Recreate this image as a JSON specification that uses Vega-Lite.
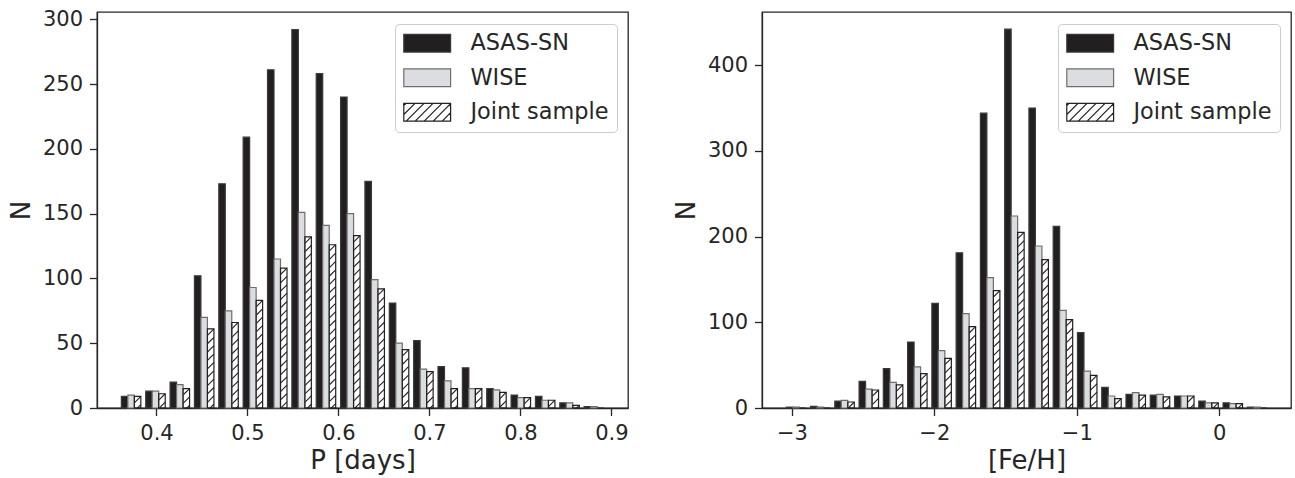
{
  "$schema": "https://vega.github.io/schema/vega-lite/v6.json",
  "background": "white",
  "padding": {"left": 7, "top": 7, "right": 0, "bottom": 0},
  "config": {
    "font": "DejaVu Sans",
    "view": {"stroke": "#262626", "strokeWidth": 1.3},
    "axis": {
      "grid": false,
      "zindex": 1,
      "domainColor": "#262626",
      "domainWidth": 1.3,
      "tickColor": "#262626",
      "tickWidth": 1.3,
      "tickSize": 7.5,
      "labelFont": "DejaVu Sans",
      "labelFontSize": 21,
      "labelColor": "#262626",
      "labelPadding": 7,
      "titleFont": "DejaVu Sans",
      "titleFontSize": 26,
      "titleFontWeight": "normal",
      "titleColor": "#262626"
    },
    "axisX": {"titlePadding": 4},
    "axisY": {"titlePadding": 8},
    "legend": {
      "orient": "top-right",
      "offset": 11.5,
      "padding": 8,
      "cornerRadius": 4,
      "strokeColor": "#cccccc",
      "fillColor": "rgba(255,255,255,0.8)",
      "labelFont": "DejaVu Sans",
      "labelFontSize": 22.4,
      "labelColor": "#262626",
      "symbolSize": 400,
      "symbolStrokeWidth": 1.2,
      "symbolOffset": 13,
      "rowPadding": 10.5,
      "labelOffset": 32
    }
  },
  "datasets": {
    "period": [
      {"center": 0.3744, "sample": "ASAS-SN", "count": 9}, {"center": 0.3744, "sample": "WISE", "count": 10}, {"center": 0.3744, "sample": "Joint sample", "count": 9},
      {"center": 0.4009, "sample": "ASAS-SN", "count": 13}, {"center": 0.4009, "sample": "WISE", "count": 13}, {"center": 0.4009, "sample": "Joint sample", "count": 11},
      {"center": 0.4274, "sample": "ASAS-SN", "count": 20}, {"center": 0.4274, "sample": "WISE", "count": 18}, {"center": 0.4274, "sample": "Joint sample", "count": 15},
      {"center": 0.4540, "sample": "ASAS-SN", "count": 102}, {"center": 0.4540, "sample": "WISE", "count": 70}, {"center": 0.4540, "sample": "Joint sample", "count": 61},
      {"center": 0.4805, "sample": "ASAS-SN", "count": 173}, {"center": 0.4805, "sample": "WISE", "count": 75}, {"center": 0.4805, "sample": "Joint sample", "count": 66},
      {"center": 0.5070, "sample": "ASAS-SN", "count": 209}, {"center": 0.5070, "sample": "WISE", "count": 93}, {"center": 0.5070, "sample": "Joint sample", "count": 83},
      {"center": 0.5336, "sample": "ASAS-SN", "count": 261}, {"center": 0.5336, "sample": "WISE", "count": 115}, {"center": 0.5336, "sample": "Joint sample", "count": 108},
      {"center": 0.5601, "sample": "ASAS-SN", "count": 292}, {"center": 0.5601, "sample": "WISE", "count": 151}, {"center": 0.5601, "sample": "Joint sample", "count": 132},
      {"center": 0.5866, "sample": "ASAS-SN", "count": 258}, {"center": 0.5866, "sample": "WISE", "count": 141}, {"center": 0.5866, "sample": "Joint sample", "count": 126},
      {"center": 0.6131, "sample": "ASAS-SN", "count": 240}, {"center": 0.6131, "sample": "WISE", "count": 150}, {"center": 0.6131, "sample": "Joint sample", "count": 133},
      {"center": 0.6397, "sample": "ASAS-SN", "count": 175}, {"center": 0.6397, "sample": "WISE", "count": 99}, {"center": 0.6397, "sample": "Joint sample", "count": 92},
      {"center": 0.6662, "sample": "ASAS-SN", "count": 81}, {"center": 0.6662, "sample": "WISE", "count": 50}, {"center": 0.6662, "sample": "Joint sample", "count": 45},
      {"center": 0.6927, "sample": "ASAS-SN", "count": 52}, {"center": 0.6927, "sample": "WISE", "count": 30}, {"center": 0.6927, "sample": "Joint sample", "count": 28},
      {"center": 0.7193, "sample": "ASAS-SN", "count": 32}, {"center": 0.7193, "sample": "WISE", "count": 21}, {"center": 0.7193, "sample": "Joint sample", "count": 15},
      {"center": 0.7458, "sample": "ASAS-SN", "count": 31}, {"center": 0.7458, "sample": "WISE", "count": 15}, {"center": 0.7458, "sample": "Joint sample", "count": 15},
      {"center": 0.7723, "sample": "ASAS-SN", "count": 15}, {"center": 0.7723, "sample": "WISE", "count": 14}, {"center": 0.7723, "sample": "Joint sample", "count": 12},
      {"center": 0.7988, "sample": "ASAS-SN", "count": 10}, {"center": 0.7988, "sample": "WISE", "count": 8}, {"center": 0.7988, "sample": "Joint sample", "count": 8},
      {"center": 0.8254, "sample": "ASAS-SN", "count": 9}, {"center": 0.8254, "sample": "WISE", "count": 6}, {"center": 0.8254, "sample": "Joint sample", "count": 6},
      {"center": 0.8519, "sample": "ASAS-SN", "count": 4}, {"center": 0.8519, "sample": "WISE", "count": 4}, {"center": 0.8519, "sample": "Joint sample", "count": 2},
      {"center": 0.8784, "sample": "ASAS-SN", "count": 1}, {"center": 0.8784, "sample": "WISE", "count": 1}, {"center": 0.8784, "sample": "Joint sample", "count": 0}
    ],
    "feh": [
      {"center": -2.9566, "sample": "ASAS-SN", "count": 1}, {"center": -2.9566, "sample": "WISE", "count": 1}, {"center": -2.9566, "sample": "Joint sample", "count": 0},
      {"center": -2.7878, "sample": "ASAS-SN", "count": 2}, {"center": -2.7878, "sample": "WISE", "count": 1}, {"center": -2.7878, "sample": "Joint sample", "count": 0},
      {"center": -2.6189, "sample": "ASAS-SN", "count": 8}, {"center": -2.6189, "sample": "WISE", "count": 9}, {"center": -2.6189, "sample": "Joint sample", "count": 7},
      {"center": -2.4501, "sample": "ASAS-SN", "count": 31}, {"center": -2.4501, "sample": "WISE", "count": 22}, {"center": -2.4501, "sample": "Joint sample", "count": 21},
      {"center": -2.2813, "sample": "ASAS-SN", "count": 46}, {"center": -2.2813, "sample": "WISE", "count": 30}, {"center": -2.2813, "sample": "Joint sample", "count": 27},
      {"center": -2.1125, "sample": "ASAS-SN", "count": 77}, {"center": -2.1125, "sample": "WISE", "count": 48}, {"center": -2.1125, "sample": "Joint sample", "count": 40},
      {"center": -1.9436, "sample": "ASAS-SN", "count": 122}, {"center": -1.9436, "sample": "WISE", "count": 67}, {"center": -1.9436, "sample": "Joint sample", "count": 58},
      {"center": -1.7748, "sample": "ASAS-SN", "count": 181}, {"center": -1.7748, "sample": "WISE", "count": 110}, {"center": -1.7748, "sample": "Joint sample", "count": 95},
      {"center": -1.6060, "sample": "ASAS-SN", "count": 344}, {"center": -1.6060, "sample": "WISE", "count": 152}, {"center": -1.6060, "sample": "Joint sample", "count": 137},
      {"center": -1.4371, "sample": "ASAS-SN", "count": 442}, {"center": -1.4371, "sample": "WISE", "count": 224}, {"center": -1.4371, "sample": "Joint sample", "count": 205},
      {"center": -1.2683, "sample": "ASAS-SN", "count": 350}, {"center": -1.2683, "sample": "WISE", "count": 189}, {"center": -1.2683, "sample": "Joint sample", "count": 173},
      {"center": -1.0995, "sample": "ASAS-SN", "count": 212}, {"center": -1.0995, "sample": "WISE", "count": 114}, {"center": -1.0995, "sample": "Joint sample", "count": 103},
      {"center": -0.9306, "sample": "ASAS-SN", "count": 88}, {"center": -0.9306, "sample": "WISE", "count": 43}, {"center": -0.9306, "sample": "Joint sample", "count": 38},
      {"center": -0.7618, "sample": "ASAS-SN", "count": 24}, {"center": -0.7618, "sample": "WISE", "count": 14}, {"center": -0.7618, "sample": "Joint sample", "count": 11},
      {"center": -0.5930, "sample": "ASAS-SN", "count": 16}, {"center": -0.5930, "sample": "WISE", "count": 18}, {"center": -0.5930, "sample": "Joint sample", "count": 15},
      {"center": -0.4241, "sample": "ASAS-SN", "count": 15}, {"center": -0.4241, "sample": "WISE", "count": 16}, {"center": -0.4241, "sample": "Joint sample", "count": 13},
      {"center": -0.2553, "sample": "ASAS-SN", "count": 14}, {"center": -0.2553, "sample": "WISE", "count": 14}, {"center": -0.2553, "sample": "Joint sample", "count": 14},
      {"center": -0.0865, "sample": "ASAS-SN", "count": 8}, {"center": -0.0865, "sample": "WISE", "count": 6}, {"center": -0.0865, "sample": "Joint sample", "count": 6},
      {"center": 0.0824, "sample": "ASAS-SN", "count": 6}, {"center": 0.0824, "sample": "WISE", "count": 5}, {"center": 0.0824, "sample": "Joint sample", "count": 5},
      {"center": 0.2512, "sample": "ASAS-SN", "count": 1}, {"center": 0.2512, "sample": "WISE", "count": 1}, {"center": 0.2512, "sample": "Joint sample", "count": 0}
    ]
  },
  "bounds": "flush",
  "spacing": 134,
  "resolve": {
    "scale": {"fill": "independent", "stroke": "independent", "shape": "independent"},
    "legend": {"fill": "independent", "stroke": "independent", "shape": "independent"}
  },
  "hconcat": [
    {
      "width": 531,
      "height": 396,
      "data": {"name": "period"},
      "resolve": {"scale": {"x": "independent"}, "axis": {"x": "independent"}},
      "layer": [
        {
          "encoding": {
            "x": {"field": "center", "type": "ordinal", "scale": {"type": "band", "paddingInner": 0.2, "paddingOuter": 1.1}, "axis": null},
            "xOffset": {"field": "sample", "type": "nominal", "scale": {"domain": ["ASAS-SN", "WISE", "Joint sample"]}}
          },
          "layer": [
            {
              "transform": [{"filter": "datum.sample === 'Joint sample' && datum.count > 0"}],
              "mark": {"type": "point", "clip": true, "filled": false, "opacity": 1, "size": 41.4, "stroke": "#231f20", "strokeWidth": 1.1,
                "shape": "M-1,2L1,0M-1,4.6L1,2.6M-1,7.2L1,5.2M-1,9.8L1,7.8M-1,12.4L1,10.4M-1,15L1,13M-1,17.6L1,15.6M-1,20.2L1,18.2M-1,22.8L1,20.8M-1,25.4L1,23.4M-1,28L1,26M-1,30.6L1,28.6M-1,33.2L1,31.2M-1,35.8L1,33.8M-1,38.4L1,36.4M-1,41L1,39M-1,43.6L1,41.6M-1,46.2L1,44.2M-1,48.8L1,46.8M-1,51.4L1,49.4M-1,54L1,52M-1,56.6L1,54.6M-1,59.2L1,57.2"},
              "encoding": {"y": {"field": "count", "type": "quantitative", "stack": null, "axis": {"title": "N"}}}
            },
            {
              "mark": {"type": "bar", "strokeWidth": 1.2},
              "encoding": {
                "y": {
                  "field": "count", "type": "quantitative", "stack": null,
                  "scale": {"domain": [0, 305.6], "nice": false},
                  "axis": {"title": "N", "values": [0, 50, 100, 150, 200, 250, 300]}
                },
                "fill": {
                  "field": "sample", "type": "nominal",
                  "scale": {"domain": ["ASAS-SN", "WISE", "Joint sample"], "range": ["#231f20", "#dcdde0", "transparent"]},
                  "legend": {"title": null}
                },
                "stroke": {
                  "field": "sample", "type": "nominal",
                  "scale": {"domain": ["ASAS-SN", "WISE", "Joint sample"], "range": ["#3a3a3a", "#6e6e6e", "#231f20"]},
                  "legend": {"title": null}
                }
              }
            }
          ]
        },
        {
          "transform": [{"filter": "false"}],
          "mark": {"type": "point", "opacity": 1},
          "encoding": {
            "x": {
              "field": "center", "type": "quantitative",
              "scale": {"domain": [0.3346, 0.9183], "nice": false, "zero": false},
              "axis": {"orient": "bottom", "values": [0.4, 0.5, 0.6, 0.7, 0.8, 0.9], "format": ".1f", "title": "P [days]"}
            },
            "y": {"field": "count", "type": "quantitative", "stack": null, "axis": {"title": "N"}},
            "shape": {
              "field": "sample", "type": "nominal",
              "scale": {"domain": ["ASAS-SN", "WISE", "Joint sample"], "range": ["M-2.34,-0.89H2.34V0.89H-2.34Z", "M-2.34,-0.89H2.34V0.89H-2.34Z", "M-2.34,-0.89H2.34V0.89H-2.34ZM-2.34,-0.67L-2.12,-0.89M-2.34,0.23L-1.22,-0.89M-2.1,0.89L-0.32,-0.89M-1.2,0.89L0.58,-0.89M-0.3,0.89L1.48,-0.89M0.6,0.89L2.34,-0.85M1.5,0.89L2.34,0.05"]},
              "legend": {"title": null}
            }
          }
        }
      ]
    },
    {
      "width": 529,
      "height": 396,
      "data": {"name": "feh"},
      "resolve": {"scale": {"x": "independent"}, "axis": {"x": "independent"}},
      "layer": [
        {
          "encoding": {
            "x": {"field": "center", "type": "ordinal", "scale": {"type": "band", "paddingInner": 0.2, "paddingOuter": 1.1}, "axis": null},
            "xOffset": {"field": "sample", "type": "nominal", "scale": {"domain": ["ASAS-SN", "WISE", "Joint sample"]}}
          },
          "layer": [
            {
              "transform": [{"filter": "datum.sample === 'Joint sample' && datum.count > 0"}],
              "mark": {"type": "point", "clip": true, "filled": false, "opacity": 1, "size": 41.4, "stroke": "#231f20", "strokeWidth": 1.1,
                "shape": "M-1,2L1,0M-1,4.6L1,2.6M-1,7.2L1,5.2M-1,9.8L1,7.8M-1,12.4L1,10.4M-1,15L1,13M-1,17.6L1,15.6M-1,20.2L1,18.2M-1,22.8L1,20.8M-1,25.4L1,23.4M-1,28L1,26M-1,30.6L1,28.6M-1,33.2L1,31.2M-1,35.8L1,33.8M-1,38.4L1,36.4M-1,41L1,39M-1,43.6L1,41.6M-1,46.2L1,44.2M-1,48.8L1,46.8M-1,51.4L1,49.4M-1,54L1,52M-1,56.6L1,54.6M-1,59.2L1,57.2"},
              "encoding": {"y": {"field": "count", "type": "quantitative", "stack": null, "axis": {"title": "N"}}}
            },
            {
              "mark": {"type": "bar", "strokeWidth": 1.2},
              "encoding": {
                "y": {
                  "field": "count", "type": "quantitative", "stack": null,
                  "scale": {"domain": [0, 462], "nice": false},
                  "axis": {"title": "N", "values": [0, 100, 200, 300, 400]}
                },
                "fill": {
                  "field": "sample", "type": "nominal",
                  "scale": {"domain": ["ASAS-SN", "WISE", "Joint sample"], "range": ["#231f20", "#dcdde0", "transparent"]},
                  "legend": {"title": null}
                },
                "stroke": {
                  "field": "sample", "type": "nominal",
                  "scale": {"domain": ["ASAS-SN", "WISE", "Joint sample"], "range": ["#3a3a3a", "#6e6e6e", "#231f20"]},
                  "legend": {"title": null}
                }
              }
            }
          ]
        },
        {
          "transform": [{"filter": "false"}],
          "mark": {"type": "point", "opacity": 1},
          "encoding": {
            "x": {
              "field": "center", "type": "quantitative",
              "scale": {"domain": [-3.21, 0.504], "nice": false, "zero": false},
              "axis": {"orient": "bottom", "values": [-3, -2, -1, 0], "format": "d", "title": "[Fe/H]"}
            },
            "y": {"field": "count", "type": "quantitative", "stack": null, "axis": {"title": "N"}},
            "shape": {
              "field": "sample", "type": "nominal",
              "scale": {"domain": ["ASAS-SN", "WISE", "Joint sample"], "range": ["M-2.34,-0.89H2.34V0.89H-2.34Z", "M-2.34,-0.89H2.34V0.89H-2.34Z", "M-2.34,-0.89H2.34V0.89H-2.34ZM-2.34,-0.67L-2.12,-0.89M-2.34,0.23L-1.22,-0.89M-2.1,0.89L-0.32,-0.89M-1.2,0.89L0.58,-0.89M-0.3,0.89L1.48,-0.89M0.6,0.89L2.34,-0.85M1.5,0.89L2.34,0.05"]},
              "legend": {"title": null}
            }
          }
        }
      ]
    }
  ]
}
